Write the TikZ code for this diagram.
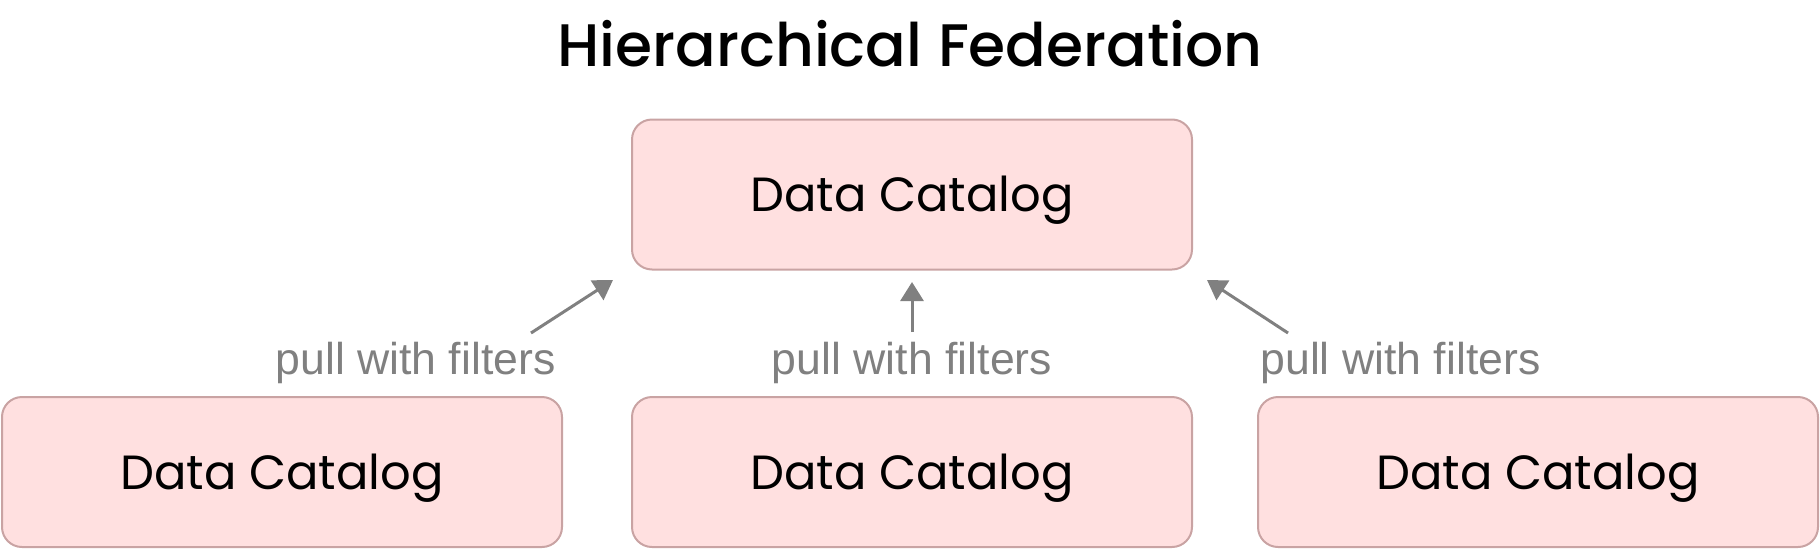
\documentclass[tikz,border=0pt]{standalone}
\usepackage{fontspec}
\setmainfont{Poppins}
\newfontfamily\titlefont{Poppins Medium}
\newfontfamily\pullfont{Liberation Sans}
\usetikzlibrary{arrows.meta}
\definecolor{catfill}{HTML}{FFE0E0}
\definecolor{catline}{HTML}{C9A3A3}
\definecolor{pullgray}{HTML}{808080}
\tikzset{
    catalog/.style={draw=catline, fill=catfill, line width=1pt, rounded corners=10pt,
        minimum width=280pt, minimum height=75pt, inner sep=0pt,
        text height=17pt, text depth=0pt, font=\fontsize{24}{28}\selectfont},
    pull/.style={text=pullgray, inner sep=0pt, font=\pullfont\fontsize{22.3}{26}\selectfont},
    pullarrow/.style={draw=pullgray, line width=1.5pt, -{Triangle[length=9.5pt,width=11.5pt]}},
}
\begin{document}
\begin{tikzpicture}[x=0.5pt,y=-0.5pt]
      \useasboundingbox (0,0) rectangle (1820,552);
      \node[anchor=base, inner sep=0pt, font=\titlefont\fontsize{30}{36}\selectfont] (title) at (910,66) {Hierarchical Federation};

      % federated catalog
      \node[catalog] (top) at (912,194.5) {Data Catalog};

      % member catalogs
      \node[catalog] (left) at (282,472) {Data Catalog};
      \node[catalog] (mid) at (912,472) {Data Catalog};
      \node[catalog] (right) at (1538,472) {Data Catalog};

      \node[pull, anchor=base east] (pullL) at (556,374) {pull with filters};
      \node[pull, anchor=base] (pullM) at (912,374) {pull with filters};
      \node[pull, anchor=base west] (pullR) at (1260,374) {pull with filters};

      \coordinate (pullL-s) at (531,333);
      \coordinate (pullL-e) at (613,280);
      \coordinate (pullM-s) at (912,332);
      \coordinate (pullM-e) at (912,282);
      \coordinate (pullR-s) at (1288,333);
      \coordinate (pullR-e) at (1207,280);
      \draw[pullarrow] (pullL-s) -- (pullL-e);
      \draw[pullarrow] (pullM-s) -- (pullM-e);
      \draw[pullarrow] (pullR-s) -- (pullR-e);
\end{tikzpicture}
\end{document}
